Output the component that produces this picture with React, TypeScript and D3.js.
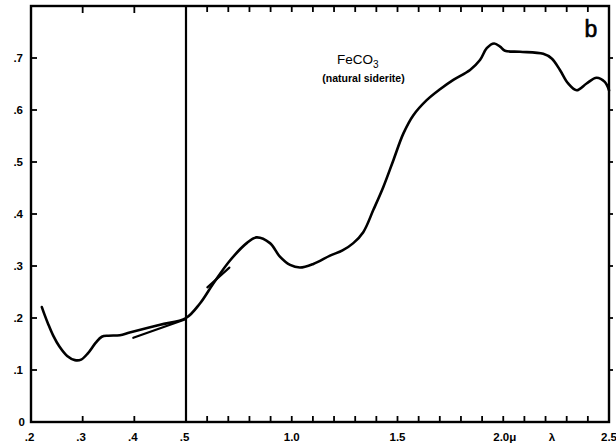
import React from "react";
import * as d3 from "d3";

// Reflectance of FeCO3 (natural siderite) vs wavelength (μm)
const leftLambda = [0.221, 0.226, 0.233, 0.243, 0.255, 0.270, 0.285, 0.297, 0.310, 0.325, 0.337, 0.350, 0.372, 0.391, 0.45, 0.5];
const leftR = [0.221, 0.207, 0.189, 0.166, 0.145, 0.127, 0.119, 0.120, 0.132, 0.152, 0.164, 0.166, 0.167, 0.172, 0.187, 0.200];

const rightLambda = [0.5, 0.566, 0.63, 0.709, 0.787, 0.833, 0.897, 0.944, 0.992, 1.039, 1.102, 1.181, 1.24, 1.291, 1.338, 1.386, 1.433, 1.481, 1.528, 1.575, 1.638, 1.701, 1.764, 1.843, 1.890, 1.922, 1.957, 1.985, 2.008, 2.079, 2.189, 2.229, 2.268, 2.307, 2.347, 2.394, 2.441, 2.480, 2.5];
const rightR = [0.200, 0.228, 0.267, 0.311, 0.344, 0.355, 0.344, 0.318, 0.302, 0.297, 0.304, 0.320, 0.330, 0.344, 0.365, 0.408, 0.452, 0.504, 0.555, 0.590, 0.619, 0.640, 0.658, 0.677, 0.696, 0.719, 0.728, 0.722, 0.714, 0.712, 0.708, 0.699, 0.677, 0.651, 0.638, 0.651, 0.662, 0.654, 0.638];

// overlapping short segments from a second run
const overlapALambda = [0.398, 0.498];
const overlapAR = [0.162, 0.197];
const overlapBLambda = [0.601, 0.705];
const overlapBR = [0.259, 0.297];

const yTicks = [0.1, 0.2, 0.3, 0.4, 0.5, 0.6, 0.7];
const yTickLabels = ["0", ".1", ".2", ".3", ".4", ".5", ".6", ".7"];
const leftMinorTicks = [0.3, 0.4];
const rightMinorTicks = [0.6, 0.7, 0.8, 0.9, 1.0, 1.1, 1.2, 1.3, 1.4, 1.5, 1.6, 1.7, 1.8, 1.9, 2.0, 2.1, 2.2, 2.3, 2.4];
const xLeftLabels = [
  { v: 0.2, t: ".2" },
  { v: 0.3, t: ".3" },
  { v: 0.4, t: ".4" },
  { v: 0.5, t: ".5" },
];
const xRightLabels = [
  { v: 1.0, t: "1.0" },
  { v: 1.5, t: "1.5" },
  { v: 2.0, t: "2.0μ" },
  { v: 2.23, t: "λ" },
  { v: 2.5, t: "2.5" },
];

const W = 616;
const H = 447;
const L = 31, R = 609, T = 6, B = 422, MID = 186;

const xLeft = d3.scaleLinear().domain([0.2, 0.5]).range([L, MID]);
const xRight = d3.scaleLinear().domain([0.5, 2.5]).range([MID, R]);
const xs = (v: number) => (v <= 0.5 ? xLeft(v) : xRight(v));
const y = d3.scaleLinear().domain([0, 0.8]).range([B, T]);

const line = d3
  .line<[number, number]>()
  .x((d) => xs(d[0]))
  .y((d) => y(d[1]))
  .curve(d3.curveCatmullRom.alpha(0.5));

const zip = (a: number[], b: number[]) => a.map((v, i) => [v, b[i]] as [number, number]);

export default function App() {
  const font = "'Liberation Sans', Arial, sans-serif";
  const curve = zip(leftLambda, leftR).concat(zip(rightLambda, rightR).slice(1));
  return (
    <svg
      width={W}
      height={H}
      style={{ position: "absolute", left: 0, top: 0, background: "#fff" }}
    >
      <rect x={0} y={0} width={W} height={H} fill="#fff" />
      {/* frame */}
      <rect x={L} y={T} width={R - L} height={B - T} fill="none" stroke="#000" strokeWidth={2.4} />
      <line x1={MID} x2={MID} y1={T} y2={B} stroke="#000" strokeWidth={2.2} />
      {/* left axis ticks (inward) */}
      {yTicks.map((v) => (
        <line key={"l" + v} x1={L} x2={L + 6} y1={y(v)} y2={y(v)} stroke="#000" strokeWidth={1.8} />
      ))}
      {/* right axis ticks (outward) */}
      {yTicks.map((v) => (
        <line key={"r" + v} x1={R} x2={R + 4} y1={y(v)} y2={y(v)} stroke="#000" strokeWidth={1.8} />
      ))}
      {/* top ticks */}
      {leftMinorTicks.map((v) => (
        <line key={"tl" + v} x1={xLeft(v)} x2={xLeft(v)} y1={T} y2={T + 7} stroke="#000" strokeWidth={1.8} />
      ))}
      {rightMinorTicks.map((v) => (
        <line key={"tr" + v} x1={xRight(v)} x2={xRight(v)} y1={T} y2={T + 6} stroke="#000" strokeWidth={1.8} />
      ))}
      {/* bottom ticks */}
      {leftMinorTicks.map((v) => (
        <line key={"bl" + v} x1={xLeft(v)} x2={xLeft(v)} y1={B} y2={B - 6} stroke="#000" strokeWidth={1.8} />
      ))}
      {rightMinorTicks.map((v) => (
        <line key={"br" + v} x1={xRight(v)} x2={xRight(v)} y1={B} y2={B - 6} stroke="#000" strokeWidth={1.8} />
      ))}
      {/* y labels */}
      {yTickLabels.map((t, i) => (
        <text
          key={"yl" + i}
          x={t === "0" ? 25 : 23}
          y={y(i * 0.1) + 4}
          textAnchor="end"
          fontFamily={font}
          fontWeight="bold"
          fontSize={11.5}
          fill="#000"
        >
          {t}
        </text>
      ))}
      {/* x labels */}
      {xLeftLabels.map((d) => (
        <text
          key={"xl" + d.v}
          x={xLeft(d.v) - 1.5}
          y={441}
          textAnchor="middle"
          fontFamily={font}
          fontWeight="bold"
          fontSize={11.5}
          fill="#000"
        >
          {d.t}
        </text>
      ))}
      {xRightLabels.map((d) => (
        <text
          key={"xr" + d.v}
          x={d.t === "2.0μ" ? xRight(d.v) - 10 : xRight(d.v)}
          y={441}
          textAnchor={d.t === "2.0μ" ? "start" : "middle"}
          fontFamily={font}
          fontWeight="bold"
          fontSize={11.5}
          fill="#000"
        >
          {d.t}
        </text>
      ))}
      {/* curves */}
      <path d={line(curve) || ""} fill="none" stroke="#000" strokeWidth={2.6} strokeLinejoin="round" strokeLinecap="round" />
      <path d={line(zip(overlapALambda, overlapAR)) || ""} fill="none" stroke="#000" strokeWidth={2.2} strokeLinecap="round" />
      <path d={line(zip(overlapBLambda, overlapBR)) || ""} fill="none" stroke="#000" strokeWidth={2.2} strokeLinecap="round" />
      {/* annotation */}
      <text x={337} y={64} fontFamily={font} fontSize={13.5} fill="#000">
        FeCO
        <tspan fontSize={10} dy={4}>3</tspan>
      </text>
      <text x={363.5} y={82} textAnchor="middle" fontFamily={font} fontSize={10.5} fontWeight="bold" fill="#000">
        (natural siderite)
      </text>
      <text x={591} y={37} textAnchor="middle" fontFamily={font} fontSize={23} fill="#000" stroke="#000" strokeWidth={0.6}>
        b
      </text>
    </svg>
  );
}
